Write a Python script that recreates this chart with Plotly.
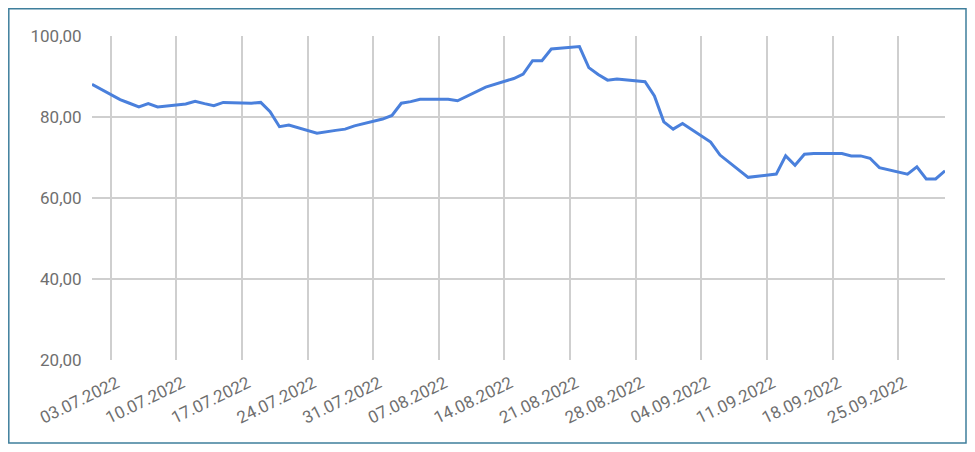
import plotly.graph_objects as go

dates = [
    "2022-07-01", "2022-07-04", "2022-07-05", "2022-07-06", "2022-07-07", "2022-07-08",
    "2022-07-11", "2022-07-12", "2022-07-13", "2022-07-14", "2022-07-15",
    "2022-07-18", "2022-07-19", "2022-07-20", "2022-07-21", "2022-07-22",
    "2022-07-25", "2022-07-26", "2022-07-27", "2022-07-28", "2022-07-29",
    "2022-08-01", "2022-08-02", "2022-08-03", "2022-08-04", "2022-08-05",
    "2022-08-08", "2022-08-09", "2022-08-10", "2022-08-11", "2022-08-12",
    "2022-08-15", "2022-08-16", "2022-08-17", "2022-08-18", "2022-08-19",
    "2022-08-22", "2022-08-23", "2022-08-24", "2022-08-25", "2022-08-26",
    "2022-08-29", "2022-08-30", "2022-08-31", "2022-09-01", "2022-09-02",
    "2022-09-05", "2022-09-06", "2022-09-07", "2022-09-08", "2022-09-09",
    "2022-09-12", "2022-09-13", "2022-09-14", "2022-09-15", "2022-09-16",
    "2022-09-19", "2022-09-20", "2022-09-21", "2022-09-22", "2022-09-23",
    "2022-09-26", "2022-09-27", "2022-09-28", "2022-09-29", "2022-09-30",
]
values = [
    88.1, 84.3, 83.4, 82.5, 83.3, 82.5,
    83.2, 83.9, 83.3, 82.8, 83.6,
    83.4, 83.6, 81.3, 77.6, 78.0,
    76.0, 76.4, 76.7, 77.0, 77.8,
    79.5, 80.4, 83.4, 83.8, 84.4,
    84.4, 84.0, 85.1, 86.3, 87.4,
    89.5, 90.6, 93.9, 93.9, 96.8,
    97.4, 92.2, 90.5, 89.1, 89.4,
    88.7, 85.2, 78.8, 77.0, 78.4,
    73.8, 70.6, 68.7, 66.8, 65.1,
    65.9, 70.4, 68.1, 70.8, 71.0,
    71.0, 70.4, 70.4, 69.8, 67.5,
    65.9, 67.7, 64.7, 64.7, 66.7,
]

x_tick_vals = ["2022-07-03", "2022-07-10", "2022-07-17", "2022-07-24", "2022-07-31",
               "2022-08-07", "2022-08-14", "2022-08-21", "2022-08-28", "2022-09-04",
               "2022-09-11", "2022-09-18", "2022-09-25"]
x_tick_text = ["03.07.2022", "10.07.2022", "17.07.2022", "24.07.2022", "31.07.2022",
               "07.08.2022", "14.08.2022", "21.08.2022", "28.08.2022", "04.09.2022",
               "11.09.2022", "18.09.2022", "25.09.2022"]
y_tick_vals = [20, 40, 60, 80, 100]
y_tick_text = ["20,00", "40,00", "60,00", "80,00", "100,00"]

# the page body has an 8px margin; work in page pixels and convert
OFF = 8
W, H = 975 - OFF, 452 - OFF
L, R, T, B = 92 - OFF, 945 - OFF, 36 - OFF, 360 - OFF

fig = go.Figure()
fig.add_trace(go.Scatter(
    x=dates, y=values, mode="lines",
    line=dict(color="#4a80dc", width=3),
    hoverinfo="skip", showlegend=False,
))

def px_x(p):
    return (p - L) / (R - L)

def px_y(p):
    return (B - p) / (B - T)

fig.update_layout(
    width=W, height=H,
    margin=dict(l=L, r=W - R, t=T, b=H - B, pad=0),
    paper_bgcolor="white", plot_bgcolor="white",
    font=dict(family="Roboto", size=17, color="#6f6f6f"),
    xaxis=dict(
        type="date", range=["2022-07-01", "2022-09-30"],
        tickmode="array", tickvals=x_tick_vals, ticktext=x_tick_text,
        tickangle=-26, showgrid=True, gridcolor="#cfcfcf", gridwidth=1.5,
        zeroline=False, showline=False, ticks="outside", ticklen=6,
        tickcolor="rgba(0,0,0,0)", ticklabelshift=6,
        tickfont=dict(family="Roboto", size=17, color="#6f6f6f"),
    ),
    yaxis=dict(
        range=[20, 100], tickmode="array", tickvals=y_tick_vals, ticktext=y_tick_text,
        showgrid=True, gridcolor="#cfcfcf", gridwidth=1.5, zeroline=False,
        showline=False, ticks="outside", ticklen=6, tickcolor="rgba(0,0,0,0)",
        tickfont=dict(family="Roboto", size=17, color="#6f6f6f"),
    ),
    shapes=[dict(
        type="rect", xref="paper", yref="paper",
        x0=px_x(0.8), x1=px_x(966 - OFF), y0=px_y(443 - OFF), y1=px_y(0.8),
        line=dict(color="#3f7f9c", width=1.5), fillcolor="rgba(0,0,0,0)",
        layer="below",
    )],
)

fig.write_html("out.html")
